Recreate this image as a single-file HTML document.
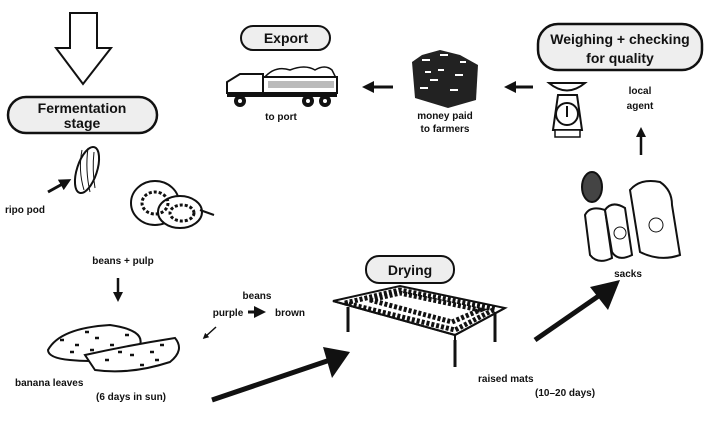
<!DOCTYPE html>
<html><head><meta charset="utf-8"><style>
html,body{margin:0;padding:0;background:#fff}
svg{display:block}
text{font-family:"Liberation Sans",sans-serif;fill:#111}
.s{font-size:10px;font-weight:bold}
.b{font-size:14px;font-weight:bold}
</style></head><body>
<svg width="720" height="431" viewBox="0 0 720 431">
<defs>
<marker id="ah" markerWidth="4" markerHeight="4" refX="2" refY="2" orient="auto"><path d="M0,0L4,2L0,4z" fill="#111"/></marker>
</defs>
<path d="M70,13H97V48H111L83,84L56,48H70Z" fill="#fff" stroke="#111" stroke-width="2"/>
<g>
<rect x="8" y="97" width="149" height="36" rx="18" fill="#eee" stroke="#111" stroke-width="2.5"/>
<text class="b" x="82" y="113" text-anchor="middle">Fermentation</text>
<text class="b" x="82" y="128" text-anchor="middle">stage</text>
</g>
<g>
<ellipse cx="87" cy="170" rx="10" ry="24" transform="rotate(18 87 170)" fill="#fff" stroke="#111" stroke-width="2"/>
<path d="M82,150 Q78,170 84,190 M88,148 Q85,170 90,192 M94,152 Q92,170 95,188" stroke="#111" fill="none"/>
<line x1="48" y1="192" x2="66" y2="182" stroke="#111" stroke-width="3" marker-end="url(#ah)"/>
<text class="s" x="5" y="213">ripo pod</text>
</g>
<g>
<ellipse cx="155" cy="203" rx="24" ry="22" fill="#fff" stroke="#111" stroke-width="2"/>
<ellipse cx="180" cy="212" rx="22" ry="16" fill="#fff" stroke="#111" stroke-width="2"/>
<ellipse cx="155" cy="203" rx="13" ry="11" fill="none" stroke="#111" stroke-width="3" stroke-dasharray="3 2"/>
<ellipse cx="182" cy="213" rx="12" ry="8" fill="none" stroke="#111" stroke-width="3" stroke-dasharray="3 2"/>
<line x1="200" y1="210" x2="214" y2="215" stroke="#111" stroke-width="2"/>
</g>
<text class="s" x="123" y="264" text-anchor="middle">beans + pulp</text>
<line x1="118" y1="278" x2="118" y2="297" stroke="#111" stroke-width="2.5" marker-end="url(#ah)"/>
<text class="s" x="257" y="299" text-anchor="middle">beans</text>
<text class="s" x="228" y="316" text-anchor="middle">purple</text>
<line x1="248" y1="312" x2="260" y2="312" stroke="#111" stroke-width="3" marker-end="url(#ah)"/>
<text class="s" x="290" y="316" text-anchor="middle">brown</text>
<line x1="216" y1="327" x2="205" y2="337" stroke="#111" stroke-width="1.5" marker-end="url(#ah)"/>
<g>
<path d="M48,350 Q60,328 110,325 Q145,330 140,345 Q120,365 70,360 Q48,358 48,350Z" fill="#fff" stroke="#111" stroke-width="2"/>
<path d="M85,355 Q130,345 175,338 Q185,350 170,362 Q130,375 95,370Z" fill="#fff" stroke="#111" stroke-width="2"/>
<path d="M60,340h4M75,345h4M95,338h4M110,345h4M125,335h4M105,360h4M130,355h4M150,352h4M160,345h4M140,365h4M90,350h4M118,352h4M70,352h4M85,332h4M155,360h4" stroke="#111" stroke-width="2.5"/>
</g>
<text class="s" x="15" y="386">banana leaves</text>
<text class="s" x="96" y="400">(6 days in sun)</text>
<line x1="212" y1="400" x2="330" y2="360" stroke="#111" stroke-width="5"/>
<path d="M350,352L323,347L332,378Z" fill="#111"/>
<g>
<rect x="366" y="256" width="88" height="27" rx="13" fill="#eee" stroke="#111" stroke-width="2"/>
<text class="b" x="410" y="275" text-anchor="middle">Drying</text>
</g>
<g>
<path d="M333,301L400,286L505,308L455,335Z" fill="#fff" stroke="#111" stroke-width="2"/>
<path d="M345,303L400,290L495,309L455,330Z" fill="none" stroke="#111" stroke-width="5" stroke-dasharray="3 2"/>
<path d="M370,300L400,293L480,310L452,322Z" fill="none" stroke="#111" stroke-width="5" stroke-dasharray="3 2"/>
<path d="M333,301L455,335L505,308M455,335v5" stroke="#111" fill="none" stroke-width="2"/>
<path d="M348,307v25M455,340v27M495,312v30" stroke="#111" stroke-width="3"/>
</g>
<text class="s" x="478" y="382">raised mats</text>
<text class="s" x="535" y="396">(10–20 days)</text>
<line x1="535" y1="340" x2="600" y2="295" stroke="#111" stroke-width="5"/>
<path d="M620,280L590,287L608,310Z" fill="#111"/>
<g>
<ellipse cx="592" cy="187" rx="10" ry="15" fill="#444" stroke="#111" stroke-width="2"/>
<path d="M585,215Q590,205 605,210L612,258Q598,265 590,255Z" fill="#fff" stroke="#111" stroke-width="2"/>
<path d="M605,210Q612,200 625,208L632,255Q618,262 612,252Z" fill="#fff" stroke="#111" stroke-width="2"/>
<path d="M630,190Q640,178 660,182Q672,190 672,205L680,255Q660,262 640,252Z" fill="#fff" stroke="#111" stroke-width="2"/>
<circle cx="620" cy="233" r="6" fill="none" stroke="#111"/><circle cx="656" cy="225" r="7" fill="none" stroke="#111"/>
</g>
<text class="s" x="628" y="277" text-anchor="middle">sacks</text>
<line x1="641" y1="155" x2="641" y2="132" stroke="#111" stroke-width="2.5" marker-end="url(#ah)"/>
<text class="s" x="640" y="94" text-anchor="middle">local</text>
<text class="s" x="640" y="109" text-anchor="middle">agent</text>
<g>
<rect x="538" y="24" width="164" height="46" rx="20" fill="#eee" stroke="#111" stroke-width="2.5"/>
<text class="b" x="620" y="44" text-anchor="middle">Weighing + checking</text>
<text class="b" x="620" y="63" text-anchor="middle">for quality</text>
</g>
<g>
<path d="M549,83Q567,98 585,83Z" fill="#fff" stroke="#111" stroke-width="2"/>
<path d="M558,95L553,130H582L577,95Z" fill="#fff" stroke="#111" stroke-width="2"/>
<circle cx="567" cy="114" r="11" fill="#fff" stroke="#111" stroke-width="2"/>
<line x1="567" y1="106" x2="567" y2="117" stroke="#111" stroke-width="2"/>
<rect x="555" y="130" width="25" height="7" fill="#fff" stroke="#111" stroke-width="1.5"/>
</g>
<line x1="533" y1="87" x2="510" y2="87" stroke="#111" stroke-width="3" marker-end="url(#ah)"/>
<g>
<path d="M412,62L422,55L440,50L460,55L478,65L476,100L448,108L415,98Z" fill="#222"/>
<path d="M422,60h8M440,55h8M455,75h8M430,80h8M450,90h8M420,88h8M460,62h6M438,70h6M425,72h6" stroke="#fff" stroke-width="2"/>
</g>
<text class="s" x="445" y="119" text-anchor="middle">money paid</text>
<text class="s" x="445" y="132" text-anchor="middle">to farmers</text>
<line x1="393" y1="87" x2="368" y2="87" stroke="#111" stroke-width="3" marker-end="url(#ah)"/>
<g>
<rect x="241" y="26" width="89" height="24" rx="12" fill="#eee" stroke="#111" stroke-width="2"/>
<text class="b" x="286" y="43" text-anchor="middle">Export</text>
</g>
<g>
<path d="M264,78Q275,65 290,70Q305,64 315,70Q325,64 332,70L336,78Z" fill="#fff" stroke="#111" stroke-width="1.5"/>
<rect x="263" y="77" width="74" height="16" fill="#fff" stroke="#111" stroke-width="2"/>
<rect x="268" y="81" width="66" height="7" fill="#bbb"/>
<path d="M227,93V82L240,74H263V93Z" fill="#fff" stroke="#111" stroke-width="2"/>
<rect x="227" y="93" width="110" height="4" fill="#111"/>
<circle cx="240" cy="101" r="6" fill="#111"/><circle cx="308" cy="101" r="6" fill="#111"/><circle cx="325" cy="101" r="6" fill="#111"/>
<circle cx="240" cy="101" r="2" fill="#fff"/><circle cx="308" cy="101" r="2" fill="#fff"/><circle cx="325" cy="101" r="2" fill="#fff"/>
</g>
<text class="s" x="281" y="120" text-anchor="middle">to port</text>
</svg>
</body></html>
